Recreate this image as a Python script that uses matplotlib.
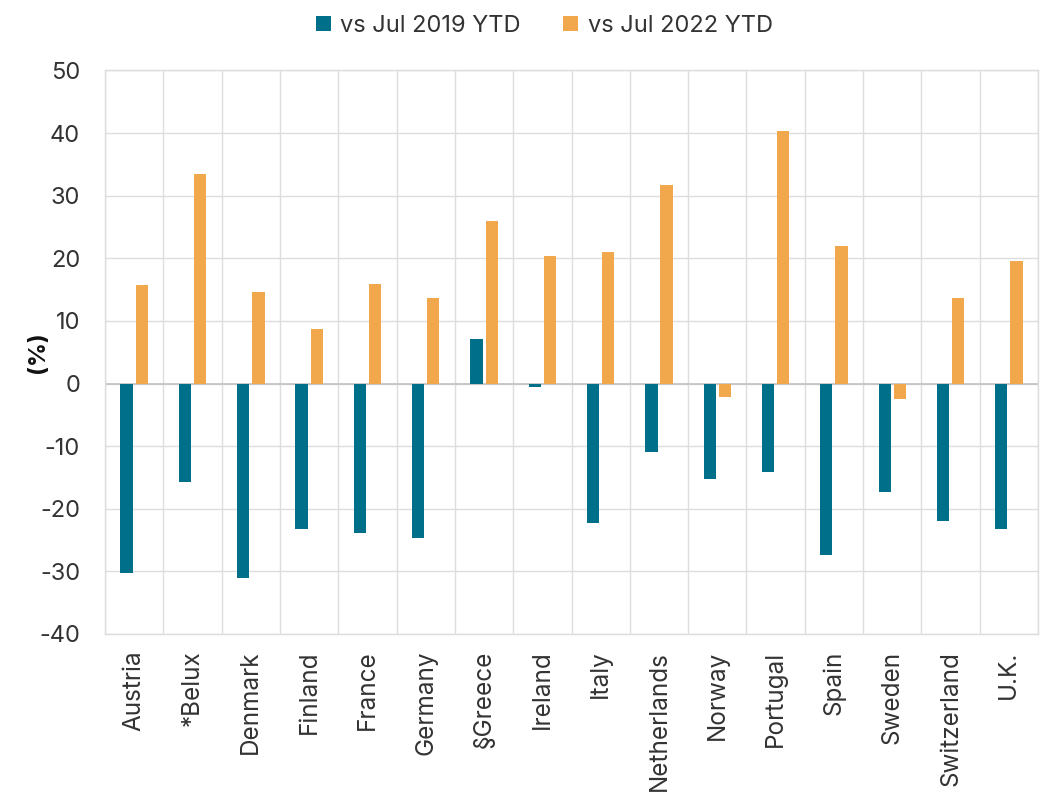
import matplotlib
matplotlib.use("Agg")
import matplotlib.pyplot as plt
import numpy as np

countries = ['Austria', '*Belux', 'Denmark', 'Finland', 'France', 'Germany', '§Greece',
             'Ireland', 'Italy', 'Netherlands', 'Norway', 'Portugal', 'Spain', 'Sweden',
             'Switzerland', 'U.K.']
vs_2019 = [-30.3, -15.8, -31.1, -23.3, -23.8, -24.7, 7.1, -0.6, -22.2, -10.9, -15.2,
           -14.1, -27.4, -17.4, -22.0, -23.3]
vs_2022 = [15.8, 33.4, 14.7, 8.7, 15.9, 13.7, 26.0, 20.3, 21.0, 31.7, -2.1, 40.4,
           22.0, -2.45, 13.7, 19.6]

teal = '#006F89'
orange = '#F1A84C'
grid_c = '#DDDDDD'
txt = '#333333'

plt.rcParams['font.family'] = ['Inter', 'DejaVu Sans']
plt.rcParams['axes.unicode_minus'] = False

fig = plt.figure(figsize=(10.43, 8.01), dpi=100)
ax = fig.add_axes([0.1007, 0.2085, 0.8945, 0.7035])

x = np.arange(len(countries))
w = 0.21
off = 0.13
ax.bar(x - off, vs_2019, w, color=teal, label='vs Jul 2019 YTD', zorder=3)
ax.bar(x + off, vs_2022, w, color=orange, label='vs Jul 2022 YTD', zorder=3)

ax.set_xlim(-0.5, len(countries) - 0.5)
ax.set_ylim(-40, 50)
ax.set_yticks(np.arange(-40, 51, 10))
ax.set_xticks(x)
ax.set_xticklabels(countries, rotation=90)

# category separators
ax.set_xticks(np.arange(-0.5, len(countries), 1), minor=True)
ax.grid(True, which='minor', axis='x', color=grid_c, lw=1, zorder=0)
ax.grid(True, which='major', axis='y', color=grid_c, lw=1, zorder=0)
ax.axhline(0, color='#C4C4C4', lw=1.3, zorder=2)

for s in ax.spines.values():
    s.set_color(grid_c)
    s.set_linewidth(1)

ax.tick_params(axis='both', which='both', length=0, colors=txt)
ax.tick_params(axis='y', pad=18, labelsize=17)
ax.tick_params(axis='x', pad=12, labelsize=17.5)

ax.set_ylabel('(%)', fontsize=17, fontweight='bold', color='#111111')
ax.yaxis.set_label_coords(-0.06, 0.5)

fig.legend(loc='upper center', bbox_to_anchor=(0.522, 1.008), ncol=2, frameon=False,
           fontsize=17, handlelength=0.62, handleheight=0.62, handletextpad=0.4,
           columnspacing=1.8, labelcolor=txt)

fig.savefig('out.png', dpi=100)
